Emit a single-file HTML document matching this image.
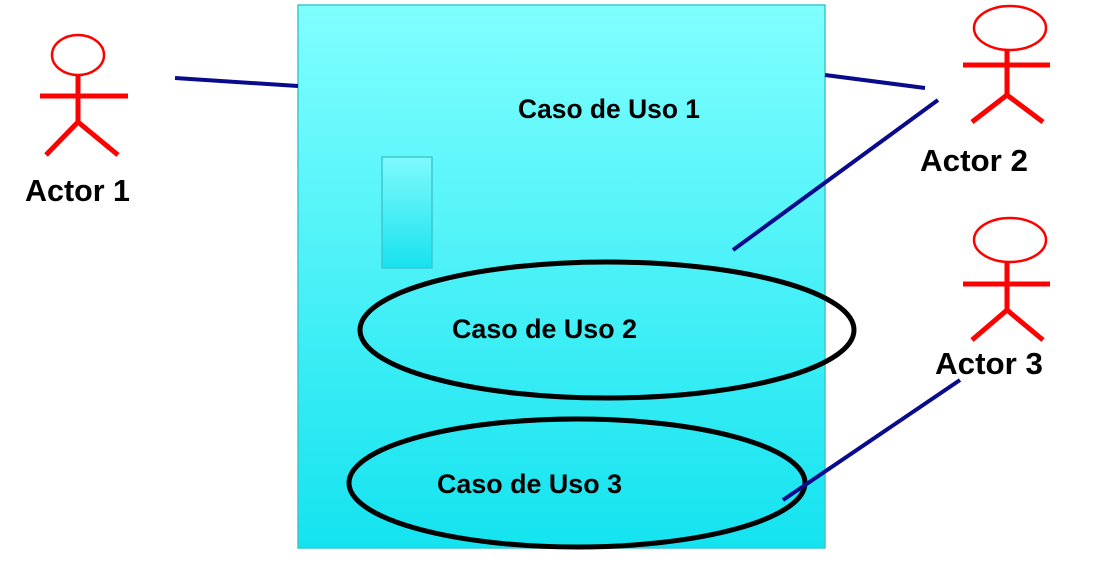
<!DOCTYPE html>
<html><head><meta charset="utf-8"><style>
html,body{margin:0;padding:0;background:#fff;}
svg{display:block;}
text{font-family:"Liberation Sans",Arial,sans-serif;font-weight:bold;}
</style></head><body>
<svg width="1115" height="561" viewBox="0 0 1115 561">
<defs>
<linearGradient id="g1" x1="0" y1="0" x2="0" y2="1">
<stop offset="0" stop-color="#80ffff"/><stop offset="1" stop-color="#14e3ef"/>
</linearGradient>
<linearGradient id="g2" x1="0" y1="0" x2="0" y2="1">
<stop offset="0" stop-color="#7ffafd"/><stop offset="1" stop-color="#18e2ee"/>
</linearGradient>
</defs>
<rect x="298" y="5" width="527" height="543" fill="url(#g1)" stroke="#3cc7cf" stroke-width="1.5"/>
<rect x="382" y="157" width="50" height="111" fill="url(#g2)" stroke="#3cc7cf" stroke-width="1.5"/>
<text x="518" y="118" font-size="27" textLength="182" lengthAdjust="spacingAndGlyphs" fill="#000">Caso de Uso 1</text>
<ellipse cx="607" cy="330" rx="247" ry="68" fill="none" stroke="#000" stroke-width="5"/>
<text x="452" y="338" font-size="27" textLength="185" lengthAdjust="spacingAndGlyphs" fill="#000">Caso de Uso 2</text>
<ellipse cx="577" cy="483" rx="228" ry="64" fill="none" stroke="#000" stroke-width="5"/>
<text x="437" y="493" font-size="27" textLength="185" lengthAdjust="spacingAndGlyphs" fill="#000">Caso de Uso 3</text>
<g stroke="#0a0a8c" stroke-width="4">
<line x1="175" y1="78" x2="298" y2="86"/>
<line x1="825" y1="75" x2="925" y2="88"/>
<line x1="938" y1="100" x2="733" y2="250"/>
<line x1="960" y1="380" x2="783" y2="500"/>
</g>
<g stroke="#f00" stroke-width="5" fill="none">
<ellipse cx="78" cy="55" rx="26" ry="20" stroke-width="2.5"/>
<line x1="78" y1="75" x2="78" y2="122"/>
<line x1="40" y1="96" x2="128" y2="96"/>
<line x1="78" y1="122" x2="46" y2="155"/>
<line x1="78" y1="122" x2="118" y2="155"/>
</g>
<text x="25" y="201" font-size="31" textLength="105" lengthAdjust="spacingAndGlyphs" fill="#000">Actor 1</text>
<g stroke="#f00" stroke-width="5" fill="none">
<ellipse cx="1010" cy="28" rx="36" ry="22" stroke-width="2.5"/>
<line x1="1007" y1="50" x2="1007" y2="95"/>
<line x1="963" y1="65" x2="1050" y2="65"/>
<line x1="1007" y1="95" x2="972" y2="122"/>
<line x1="1007" y1="95" x2="1043" y2="122"/>
</g>
<text x="920" y="171" font-size="31" textLength="108" lengthAdjust="spacingAndGlyphs" fill="#000">Actor 2</text>
<g stroke="#f00" stroke-width="5" fill="none">
<ellipse cx="1010" cy="240" rx="36" ry="22" stroke-width="2.5"/>
<line x1="1007" y1="262" x2="1007" y2="310"/>
<line x1="963" y1="284" x2="1050" y2="284"/>
<line x1="1007" y1="310" x2="972" y2="340"/>
<line x1="1007" y1="310" x2="1043" y2="340"/>
</g>
<text x="935" y="374" font-size="31" textLength="108" lengthAdjust="spacingAndGlyphs" fill="#000">Actor 3</text>
</svg>
</body></html>
